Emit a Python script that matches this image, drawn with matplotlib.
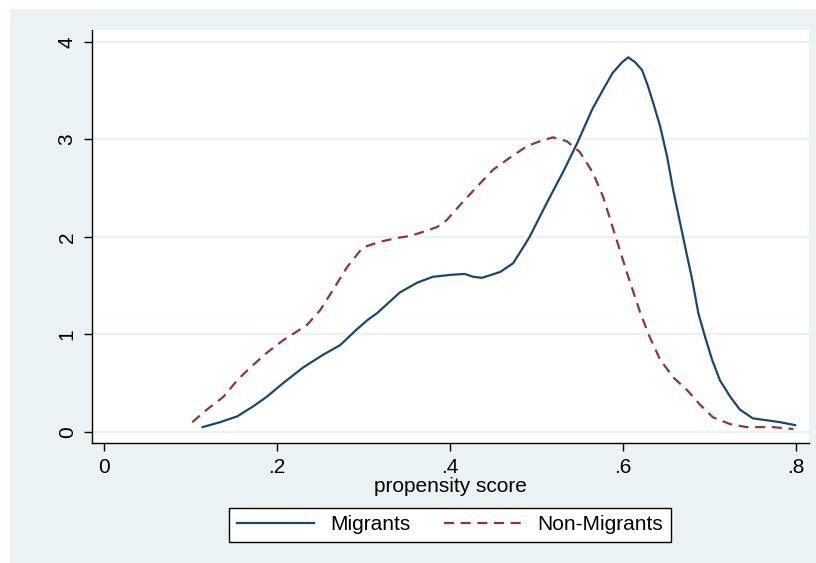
import matplotlib.pyplot as plt
from matplotlib.patches import Rectangle

plt.rcParams['font.family'] = ['Liberation Sans', 'DejaVu Sans']

# densidades estimadas del propensity score
x_migr = [0.114, 0.134, 0.154, 0.172, 0.188, 0.207, 0.230, 0.253, 0.273, 0.292,
          0.305, 0.316, 0.342, 0.362, 0.380, 0.400, 0.417, 0.427, 0.437, 0.458,
          0.473, 0.483, 0.492, 0.512, 0.531, 0.547, 0.564, 0.577, 0.588, 0.599,
          0.606, 0.614, 0.622, 0.629, 0.635, 0.643, 0.651, 0.658, 0.672, 0.680,
          0.687, 0.695, 0.703, 0.712, 0.724, 0.735, 0.750, 0.766, 0.782, 0.799]
y_migr = [0.05, 0.10, 0.16, 0.26, 0.36, 0.50, 0.66, 0.79, 0.89, 1.05,
          1.15, 1.22, 1.43, 1.53, 1.59, 1.61, 1.62, 1.59, 1.58, 1.64,
          1.73, 1.87, 2.00, 2.35, 2.67, 2.96, 3.30, 3.51, 3.68, 3.79,
          3.84, 3.79, 3.71, 3.54, 3.37, 3.13, 2.82, 2.48, 1.89, 1.56,
          1.22, 0.97, 0.74, 0.53, 0.36, 0.23, 0.14, 0.12, 0.10, 0.07]

x_nomigr = [0.102, 0.119, 0.138, 0.154, 0.169, 0.188, 0.207, 0.223, 0.235, 0.250,
            0.265, 0.281, 0.299, 0.319, 0.340, 0.354, 0.365, 0.385, 0.396, 0.415,
            0.435, 0.450, 0.469, 0.489, 0.504, 0.519, 0.535, 0.550, 0.565, 0.577,
            0.589, 0.605, 0.620, 0.631, 0.643, 0.658, 0.674, 0.689, 0.704, 0.724,
            0.743, 0.773, 0.797]
y_nomigr = [0.10, 0.23, 0.36, 0.53, 0.66, 0.81, 0.94, 1.03, 1.10, 1.25,
            1.46, 1.69, 1.89, 1.95, 1.99, 2.01, 2.04, 2.10, 2.17, 2.36,
            2.55, 2.69, 2.81, 2.93, 2.98, 3.02, 2.98, 2.87, 2.66, 2.41,
            2.07, 1.62, 1.22, 0.97, 0.74, 0.56, 0.43, 0.28, 0.15, 0.08,
            0.05, 0.05, 0.03]

xticks = [0, 0.2, 0.4, 0.6, 0.8]
xlabels = ['0', '.2', '.4', '.6', '.8']
yticks = [0, 1, 2, 3, 4]

W, H = 816, 563
fondo = '#eaf2f3'
azul = '#1a476f'
rojo = '#90353b'

fig = plt.figure(figsize=(W / 100, H / 100), dpi=100, facecolor='white')
fig.patches.append(Rectangle((10 / W, 0), 1 - 10 / W, 1 - 9 / H,
                             transform=fig.transFigure, facecolor=fondo,
                             edgecolor='none', zorder=0))

ax = fig.add_axes([92 / W, (H - 443) / H, (809 - 92) / W, (443 - 30) / H])
ax.set_facecolor('white')
ax.set_zorder(1)

ax.plot(x_migr, y_migr, color=azul, lw=1.6, label='Migrants',
        solid_joinstyle='round')
ax.plot(x_nomigr, y_nomigr, color=rojo, lw=1.6, ls=(0, (4.5, 3)),
        label='Non-Migrants')

ax.set_xlim(-0.0139, 0.815)
ax.set_ylim(-0.113, 4.12)
ax.set_xticks(xticks)
ax.set_xticklabels(xlabels)
ax.set_yticks(yticks)
ax.set_yticklabels([str(v) for v in yticks], rotation=90, va='center')
ax.grid(axis='y', color=fondo, lw=1.5)
ax.set_axisbelow(True)

for s in ['top', 'right']:
    ax.spines[s].set_visible(False)
for s in ['left', 'bottom']:
    ax.spines[s].set_color('black')
    ax.spines[s].set_linewidth(1.0)
ax.tick_params(direction='out', length=6, width=1, labelsize=15, pad=5)

ax.set_xlabel('propensity score', fontsize=15, labelpad=0)

leg = fig.legend(loc='center', bbox_to_anchor=(450 / W, 1 - 525 / H), ncol=2,
                 fontsize=15, frameon=True, fancybox=False, handlelength=3.7,
                 handletextpad=0.8, columnspacing=1.6, borderpad=0.35,
                 framealpha=1)
leg.get_frame().set_edgecolor('black')
leg.get_frame().set_linewidth(1.0)

fig.savefig('out.png', dpi=100, facecolor=fig.get_facecolor())
